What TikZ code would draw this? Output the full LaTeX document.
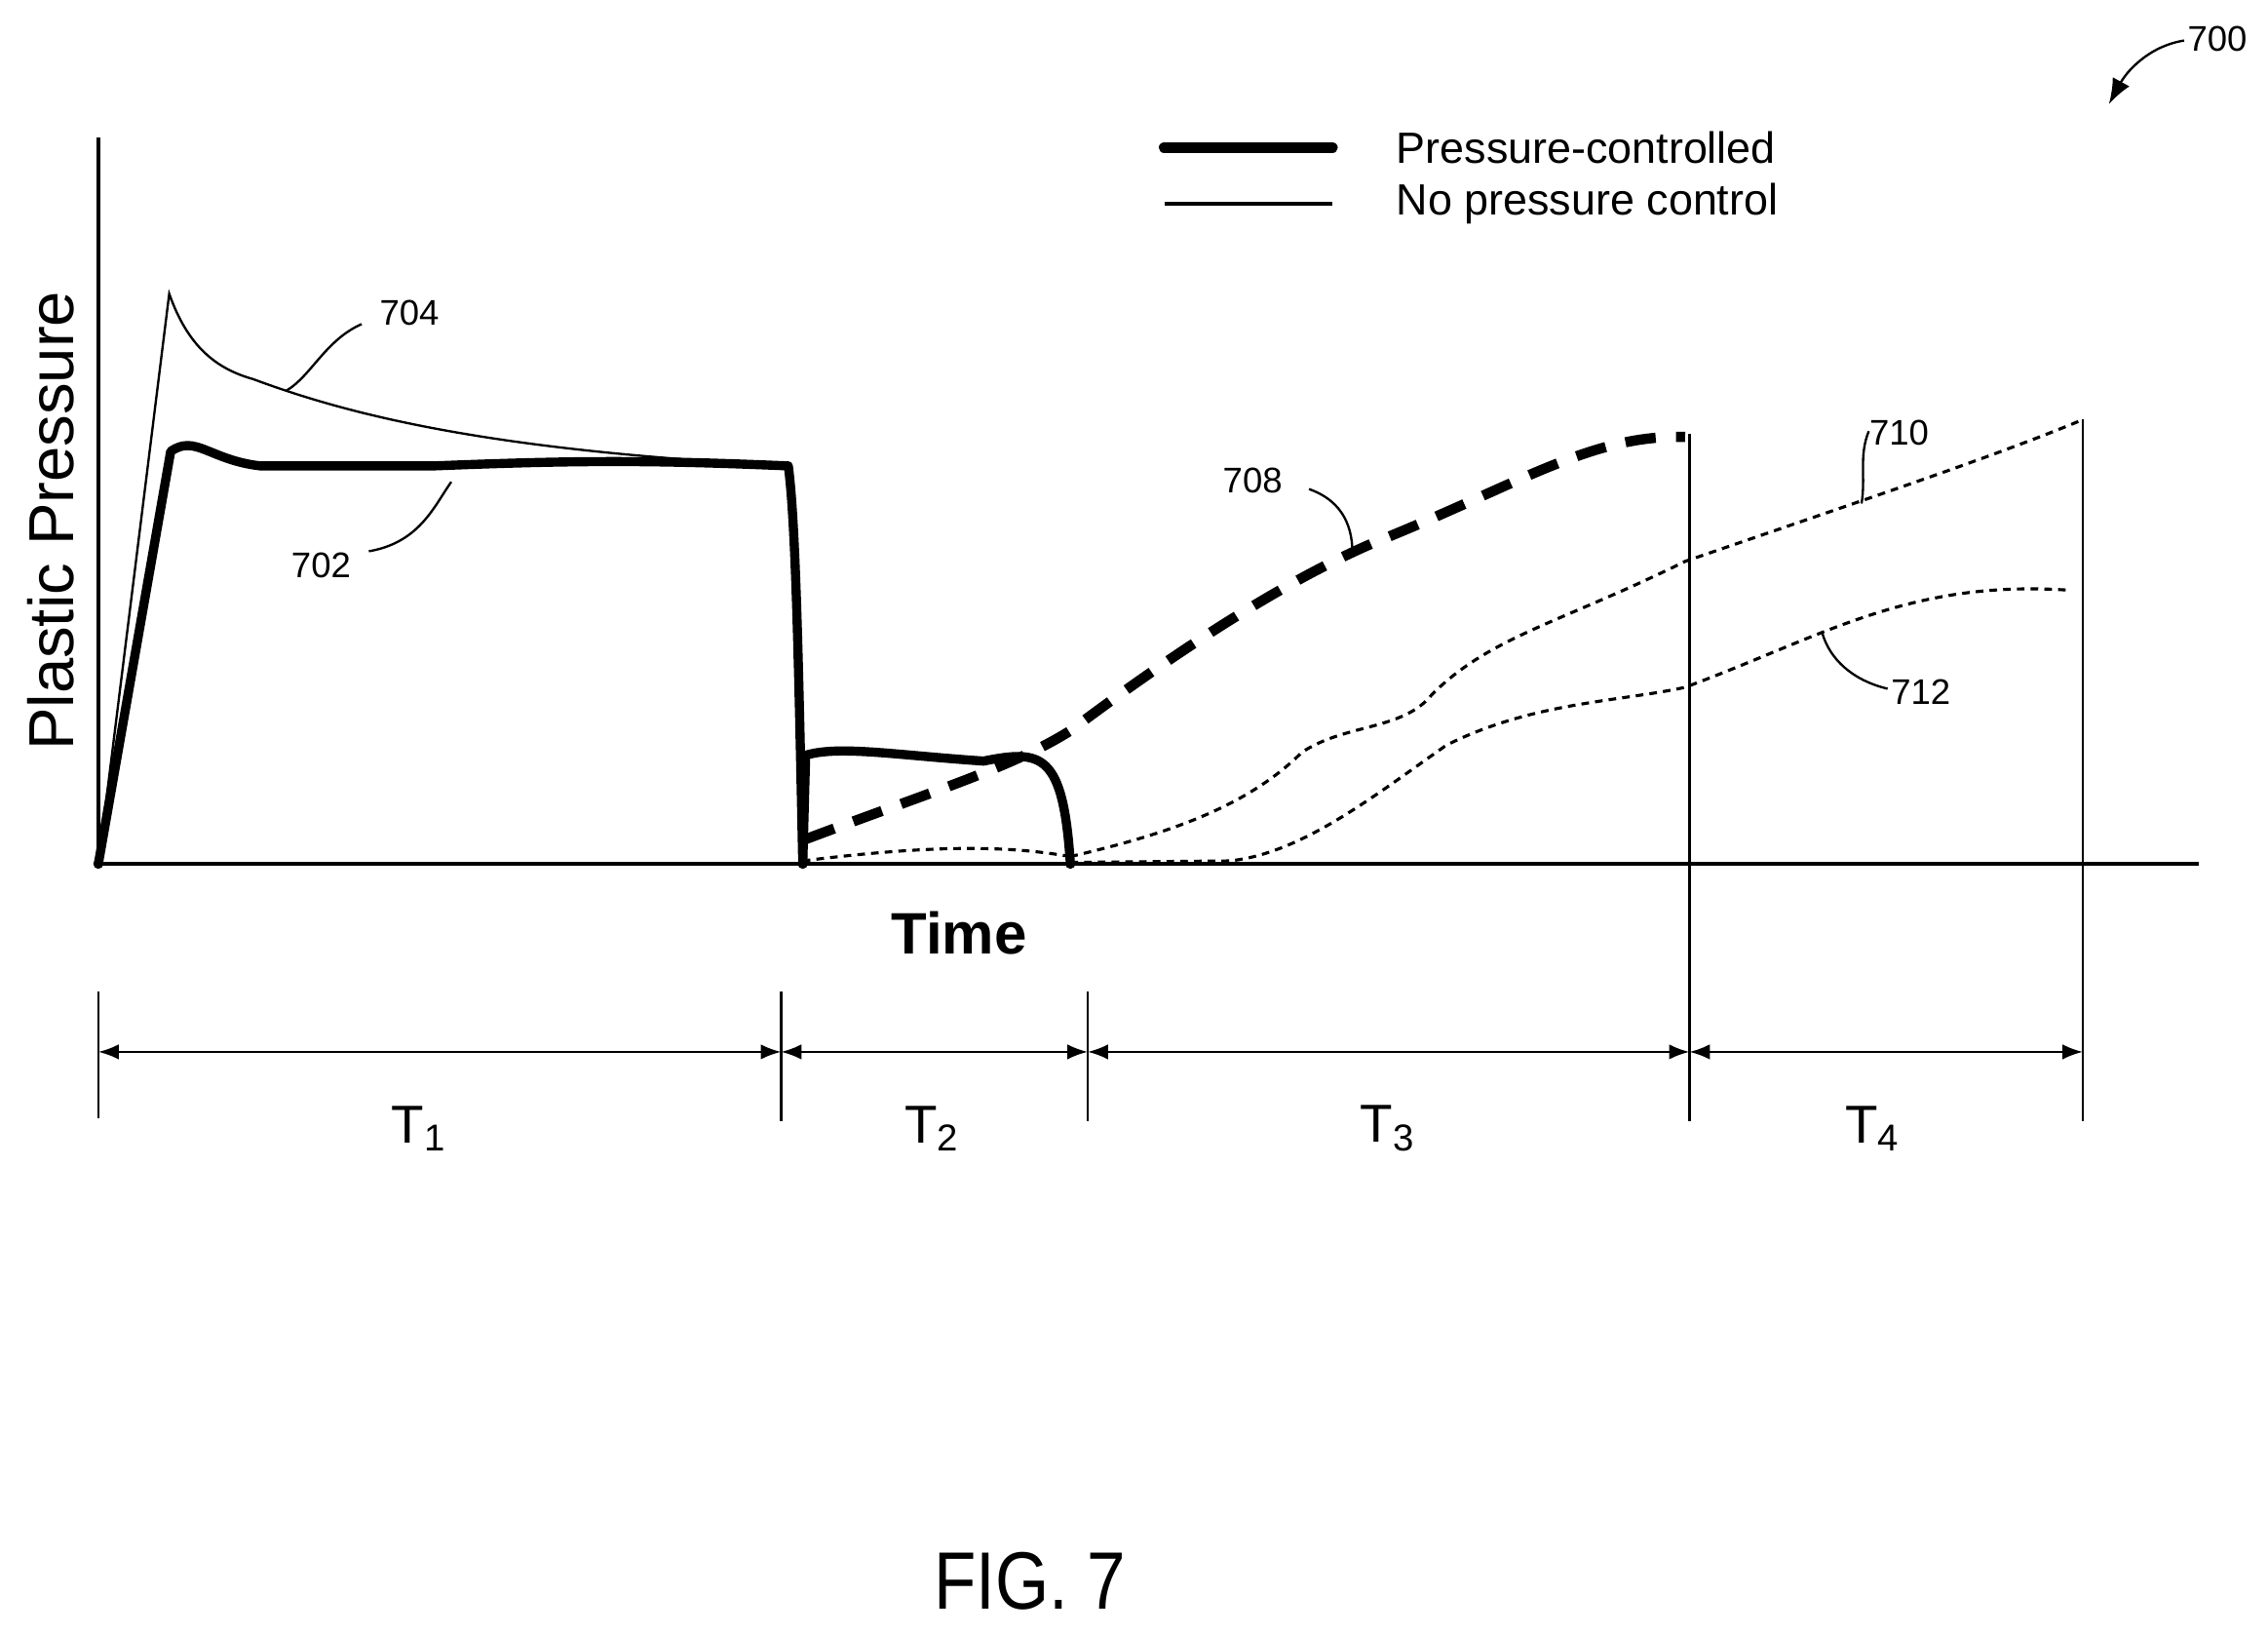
\documentclass[tikz,border=0pt]{standalone}
\usepackage{fontspec}
\setmainfont{Liberation Sans}
\usetikzlibrary{arrows.meta}
\begin{document}
\begin{tikzpicture}[x=0.01cm,y=-0.01cm,
  thickc/.style={line width=1.8pt,line join=round,line cap=round},
  thinc/.style={line width=0.45pt},
  dashc/.style={line width=2pt,dash pattern=on 6pt off 4pt},
  dotc/.style={line width=0.6pt,dash pattern=on 1.5pt off 1.2pt},
  lbl/.style={font=\fontsize{7}{8}\selectfont},
  tlbl/.style={font=\fontsize{10.5}{12}\selectfont},
  dim/.style={line width=0.45pt,{Latex[length=4pt]}-{Latex[length=4pt]}},
  tk/.style={line width=0.45pt}]
\useasboundingbox (0,0) rectangle (1568,1129);
% axes
\coordinate (yt) at (68,95); \coordinate (o) at (68,597); \coordinate (xe) at (1520,597);
\draw[line width=0.9pt] (yt) -- (o) -- (xe);
\node[rotate=90,font=\fontsize{12.5}{14}\selectfont] (yl) at (35,360) {Plastic Pressure};
\node[font=\bfseries\fontsize{11.5}{14}\selectfont] (xl) at (663,645) {Time};
% legend
\coordinate (l1a) at (805,102); \coordinate (l1b) at (921,102);
\coordinate (l2a) at (805,141); \coordinate (l2b) at (921,141);
\draw[line width=2.2pt,line cap=round] (l1a) -- (l1b);
\draw[thinc,line width=0.7pt] (l2a) -- (l2b);
\node[anchor=west,font=\fontsize{8.6}{10}\selectfont] (lt1) at (953,102) {Pressure-controlled};
\node[anchor=west,font=\fontsize{8.6}{10}\selectfont] (lt2) at (953,141) {No pressure control};
% 704
\draw[thinc] (68,597) -- (117,203) .. controls (130,240) and (150,255) .. (175,262)
  .. controls (250,290) and (350,312) .. (545,322);
% 702
\draw[thickc] (68,597) -- (118,312) .. controls (135,300) and (145,318) .. (180,322)
  -- (300,322) .. controls (400,318) and (450,318) .. (545,322) .. controls (550,360) and (552,450) .. (555,597);
% T2 thick
\draw[thickc] (555,597) -- (557,522) .. controls (580,515) and (620,522) .. (680,526)
  .. controls (720,518) and (735,520) .. (740,597);
\draw[dotc] (555,595) .. controls (650,583) and (700,585) .. (740,592);
% 708
\draw[dashc] (557,580) .. controls (650,545) and (700,530) .. (740,505)
  .. controls (800,460) and (880,405) .. (950,375)
  .. controls (1050,335) and (1100,300) .. (1165,302);
% 710
\draw[dotc] (740,592) .. controls (800,578) and (860,560) .. (900,520)
  .. controls (930,500) and (970,505) .. (990,480)
  .. controls (1030,440) and (1080,430) .. (1165,388)
  .. controls (1290,345) and (1380,315) .. (1440,290);
% 712
\draw[dotc] (740,596) -- (850,595) .. controls (900,590) and (950,550) .. (1000,515)
  .. controls (1060,485) and (1120,485) .. (1165,475)
  .. controls (1260,440) and (1320,400) .. (1432,408);
% dots
\fill (68,597) circle (3.5); \fill (555,597) circle (3.5); \fill (740,597) circle (3.5);
% labels
\node[lbl] (n704) at (283,216) {704};
\draw[thinc] (250,224) .. controls (225,235) and (215,260) .. (198,270);
\node[lbl] (n702) at (222,391) {702};
\draw[thinc] (255,381) .. controls (290,375) and (300,350) .. (312,333);
\node[lbl] (n708) at (866,332) {708};
\draw[thinc] (905,338) .. controls (925,345) and (935,360) .. (935,382);
\node[lbl] (n710) at (1313,299) {710};
\draw[thinc] (1292,298) .. controls (1285,315) and (1290,330) .. (1287,348);
\node[lbl] (n712) at (1328,478) {712};
\draw[thinc] (1305,476) .. controls (1280,470) and (1265,455) .. (1260,438);
\node[lbl] (n700) at (1533,27) {700};
\draw[thinc,-{Latex[length=5pt]}] (1510,28) .. controls (1485,32) and (1470,50) .. (1458,72);
% dimension lines
\foreach \x/\a/\b in {68/685/773, 540/685/775, 752/685/775, 1168/300/775, 1440/290/775}
  \draw[tk] (\x,\a) -- (\x,\b);
\coordinate (d0) at (68,727); \coordinate (d1) at (540,727); \coordinate (d2) at (752,727);
\coordinate (d3) at (1168,727); \coordinate (d4) at (1440,727);
\draw[dim] (d0) -- (d1); \draw[dim] (d1) -- (d2); \draw[dim] (d2) -- (d3); \draw[dim] (d3) -- (d4);
\node[tlbl] (t1) at (290,780) {T\textsubscript{1}};
\node[tlbl] (t2) at (645,780) {T\textsubscript{2}};
\node[tlbl] (t3) at (960,780) {T\textsubscript{3}};
\node[tlbl] (t4) at (1295,780) {T\textsubscript{4}};
\node[font=\fontsize{16}{18}\selectfont] (fig) at (712,1093) {\scalebox{0.85}[1]{FIG. 7}};
\end{tikzpicture}
\end{document}
